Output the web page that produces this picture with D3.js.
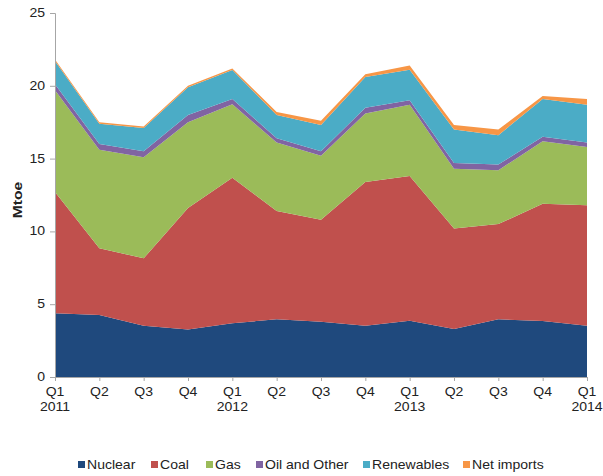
<!DOCTYPE html>
<head>
  <meta charset="utf-8">
  <title>Mtoe stacked area</title>
  <script src="https://d3js.org/d3.v7.min.js"></script>
  <style type="text/css">
    body {margin: 0; background: #fff;}
    text {font-family: 'Liberation Sans', Arial, sans-serif; fill: #222;}
  </style>
</head>
<body>
  <div id="viz"></div>
</body>
<script type="text/javascript">

  const quarters = ["Q1", "Q2", "Q3", "Q4", "Q1", "Q2", "Q3", "Q4", "Q1", "Q2", "Q3", "Q4", "Q1"];
  const years = ["2011", "", "", "", "2012", "", "", "", "2013", "", "", "", "2014"];

  const nuclear    = [4.37, 4.26, 3.52, 3.27, 3.69, 3.96, 3.80, 3.52, 3.87, 3.30, 3.96, 3.85, 3.52];
  const coal       = [8.33, 4.59, 4.63, 8.33, 10.0, 7.44, 7.00, 9.88, 9.93, 6.90, 6.54, 8.05, 8.28];
  const gas        = [7.00, 6.75, 6.95, 5.90, 5.05, 4.70, 4.40, 4.70, 4.90, 4.10, 3.70, 4.30, 4.00];
  const oilOther   = [0.40, 0.40, 0.40, 0.50, 0.35, 0.30, 0.30, 0.40, 0.30, 0.40, 0.40, 0.30, 0.30];
  const renewables = [1.60, 1.40, 1.60, 1.90, 2.00, 1.60, 1.80, 2.10, 2.10, 2.30, 2.00, 2.60, 2.60];
  const netImports = [0.10, 0.10, 0.10, 0.10, 0.10, 0.20, 0.30, 0.20, 0.30, 0.30, 0.40, 0.20, 0.40];

  const seriesNames = ["Nuclear", "Coal", "Gas", "Oil and Other", "Renewables", "Net imports"];
  const yTicks = [0, 5, 10, 15, 20, 25];

  const colorSet = {
    "Nuclear": "#1f497d",
    "Coal": "#c0504d",
    "Gas": "#9bbb59",
    "Oil and Other": "#8064a2",
    "Renewables": "#4bacc6",
    "Net imports": "#f79646"
  };

  const FULLW = 603;
  const FULLH = 476;
  const MARGIN = { top: 13, right: 16, bottom: 99, left: 55 };
  const VIZWIDTH = FULLW - MARGIN.left - MARGIN.right;
  const VIZHEIGHT = FULLH - MARGIN.top - MARGIN.bottom;
  const STRETCH = 1.17; //the original text is drawn wide

  //table for the stack
  const table = quarters.map(function (q, i) {
    return {
      i: i,
      "Nuclear": nuclear[i],
      "Coal": coal[i],
      "Gas": gas[i],
      "Oil and Other": oilOther[i],
      "Renewables": renewables[i],
      "Net imports": netImports[i]
    };
  });

  const scaleX = d3.scaleLinear().domain([0, quarters.length - 1]).range([0, VIZWIDTH]);
  const scaleY = d3.scaleLinear().domain([0, 25]).range([VIZHEIGHT, 0]);

  //wide text helper
  function wideText(parent, x, y, str, anchor, size) {
    return parent.append("text")
      .attr("transform", "translate(" + x + "," + y + ") scale(" + STRETCH + ",1)")
      .attr("text-anchor", anchor)
      .attr("font-size", size)
      .text(str);
  }

  function drawChart() {
    const svg = d3.select("#viz")
      .append("svg")
      .attr("width", FULLW)
      .attr("height", FULLH);

    svg.append("rect")
      .attr("width", "100%")
      .attr("height", "100%")
      .attr("fill", "#fff");

    const g = svg.append("g")
      .attr("transform", "translate(" + MARGIN.left + "," + MARGIN.top + ")");

    const stacked = d3.stack().keys(seriesNames)(table);

    const area = d3.area()
      .x(function (d) { return scaleX(d.data.i); })
      .y0(function (d) { return scaleY(d[0]); })
      .y1(function (d) { return scaleY(d[1]); });

    g.selectAll("path.layer")
      .data(stacked)
      .join("path")
      .attr("class", "layer")
      .attr("d", area)
      .attr("fill", function (d) { return colorSet[d.key]; });

    //y axis
    const yAxis = g.append("g")
      .call(d3.axisLeft(scaleY).tickValues(yTicks).tickSize(5).tickFormat(""));
    yAxis.selectAll("path, line").attr("stroke", "#a6a6a6");
    yTicks.forEach(function (t) {
      wideText(g, -10, scaleY(t) + 4, t, "end", 12);
    });

    //x axis
    const xAxis = g.append("g")
      .attr("transform", "translate(0," + VIZHEIGHT + ")")
      .call(d3.axisBottom(scaleX).tickValues(d3.range(quarters.length)).tickSize(4).tickFormat(""));
    xAxis.selectAll("path, line").attr("stroke", "#a6a6a6");

    quarters.forEach(function (q, i) {
      wideText(g, scaleX(i), VIZHEIGHT + 19, q, "middle", 12);
      if (years[i]) wideText(g, scaleX(i), VIZHEIGHT + 34, years[i], "middle", 12);
    });

    //axis title
    svg.append("text")
      .attr("transform", "translate(22,200) rotate(-90) scale(1.3,1)")
      .attr("text-anchor", "middle")
      .attr("font-size", 12)
      .attr("font-weight", "bold")
      .text("Mtoe");

    //legend
    const legendX = [78, 151, 206, 256, 363, 463];
    const legend = svg.append("g");
    seriesNames.forEach(function (name, i) {
      legend.append("rect")
        .attr("x", legendX[i])
        .attr("y", 461)
        .attr("width", 7)
        .attr("height", 7)
        .attr("fill", colorSet[name]);
      wideText(legend, legendX[i] + 9, 469, name, "start", 12);
    });
  }

  drawChart();

</script>
</html>
